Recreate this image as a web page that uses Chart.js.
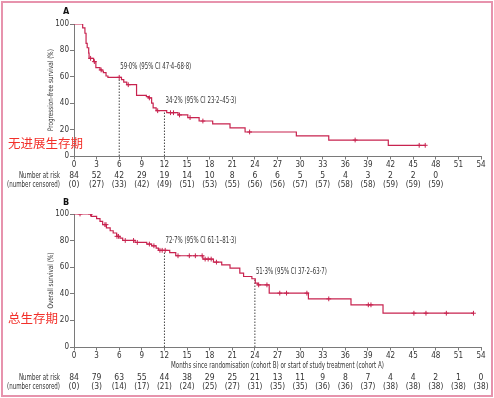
<!DOCTYPE html>
<html>
<head>
<meta charset="utf-8">
<script src="https://cdn.jsdelivr.net/npm/chart.js@4.4.0/dist/chart.umd.min.js"></script>
<style>
body { margin: 0; background: #fff; }
#wrap { position: relative; width: 494px; height: 398px; overflow: hidden; background: #fff; }
#frame { position: absolute; left: 1px; top: 1px; width: 492px; height: 396px; border: 2px solid #e793ad; box-sizing: border-box; pointer-events: none; }
canvas { position: absolute; left: 0; }
</style>
</head>
<body>
<div id="wrap">
  <canvas id="canv-a" width="494" height="196" style="top:0px"></canvas>
  <canvas id="canv-b" width="494" height="202" style="top:196px"></canvas>
  <div id="frame"></div>
</div>
<script>
// months at the x ticks
var tickMonths = [0, 3, 6, 9, 12, 15, 18, 21, 24, 27, 30, 33, 36, 39, 42, 45, 48, 51, 54];

// A: progression-free survival (step points: time, survival %)
var pfsTime = [0, 1.15, 1.45, 1.6, 1.75, 1.95, 2.0, 2.6, 2.9, 3.45, 3.7, 3.9, 4.25, 4.5, 6.3, 6.6, 7.0, 8.3, 9.6, 9.9, 10.3, 10.5, 10.9, 12.3, 13.8, 15.1, 16.6, 18.4, 20.7, 22.7, 29.5, 33.8, 41.7, 46.6];
var pfsSurv = [100, 97, 93, 85.3, 82, 78, 74, 71.5, 67, 65.2, 64.4, 63.1, 60.6, 59.6, 57.8, 56, 54, 46, 45, 44, 40, 36.4, 34.3, 32.8, 31.1, 29.1, 26.5, 24.3, 21.3, 18.2, 15.2, 12.1, 8.1, 8.1];
var pfsCensTime = [2.2, 2.7, 3.6, 6.0, 7.2, 10.0, 11.1, 12.8, 13.2, 14.0, 15.4, 17.1, 23.3, 37.3, 45.8, 46.6];
var pfsCensSurv = [74, 71.5, 65.2, 59.6, 54, 44, 34.3, 32.8, 32.8, 31.1, 29.1, 26.5, 18.2, 12.1, 8.1, 8.1];
var pfsMarkTime = [6, 12];
var pfsMarkSurv = [59.0, 34.2];
var pfsMarkText = ['59·0% (95% CI 47·4–68·8)', '34·2% (95% CI 23·2–45·3)'];
var pfsAtRisk = [84, 52, 42, 29, 19, 14, 10, 8, 6, 6, 5, 5, 4, 3, 2, 2, 0];
var pfsCensored = [0, 27, 33, 42, 49, 51, 53, 55, 56, 56, 57, 57, 58, 58, 59, 59, 59];

// B: overall survival
var osTime = [0, 2.3, 3.0, 3.45, 3.8, 4.3, 4.8, 5.2, 5.66, 6.1, 6.46, 8.1, 9.65, 10.3, 10.9, 11.2, 12.7, 13.5, 17.1, 18.5, 19.6, 20.7, 22.0, 22.5, 23.6, 24.05, 24.4, 25.9, 31.1, 36.75, 41.0, 53.0];
var osSurv = [100, 98.2, 96.5, 94.5, 92, 89.5, 87.4, 85.7, 83.2, 81.9, 80.1, 78.6, 77.4, 76.1, 74.4, 72.7, 70.9, 68.6, 66.1, 63.8, 61.8, 59.3, 55.5, 53, 51.3, 48, 46.7, 40.5, 36.2, 31.7, 25.4, 25.4];
var osCensTime = [0.8, 2.2, 4.1, 4.25, 5.7, 5.9, 6.8, 7.9, 8.4, 10.0, 10.6, 11.4, 11.7, 12.1, 13.8, 15.3, 16.1, 17.0, 17.4, 17.8, 18.2, 18.9, 24.5, 25.6, 27.3, 28.2, 30.9, 33.8, 39.05, 39.4, 45.1, 46.7, 49.4, 53.0];
var osCensSurv = [100, 100, 92, 92, 83.2, 83.2, 80.1, 80.1, 78.6, 77.4, 76.1, 72.7, 72.7, 72.7, 68.6, 68.6, 68.6, 68.6, 66.1, 66.1, 66.1, 63.8, 46.7, 46.7, 40.5, 40.5, 40.5, 36.2, 31.7, 31.7, 25.4, 25.4, 25.4, 25.4];
var osMarkTime = [12, 24];
var osMarkSurv = [72.7, 51.3];
var osMarkText = ['72·7% (95% CI 61·1–81·3)', '51·3% (95% CI 37·2–63·7)'];
var osAtRisk = [84, 79, 63, 55, 44, 38, 29, 25, 21, 13, 11, 9, 8, 7, 4, 4, 2, 1, 0];
var osCensored = [0, 3, 14, 17, 21, 24, 25, 27, 31, 35, 35, 36, 36, 37, 38, 38, 38, 38, 38];

var FONT = '"Liberation Sans Narrow", "DejaVu Sans Condensed", "Liberation Sans", sans-serif';
var CURVE = '#c8234f';
var AXIS = '#7a7a7a';

Chart.defaults.font.family = FONT;
Chart.defaults.font.size = 8;
Chart.defaults.color = '#333';

function toPoints(xs, ys) {
    var pts = [];
    for (var i = 0; i < xs.length; i++) {
        pts.push({ x: xs[i], y: ys[i] });
    }
    return pts;
}

function buildKm(id, cfg) {
    var ctx = document.getElementById(id);

    var datasets = [{
        data: toPoints(cfg.time, cfg.surv),
        stepped: 'before',
        borderColor: CURVE,
        borderWidth: 1.2,
        pointRadius: 0,
        fill: false
    }, {
        data: toPoints(cfg.censTime, cfg.censSurv),
        showLine: false,
        pointStyle: 'cross',
        pointRadius: 2.4,
        pointBorderWidth: 1,
        borderColor: CURVE,
        backgroundColor: CURVE
    }];

    for (var i = 0; i < cfg.markTime.length; i++) {
        datasets.push({
            data: [{ x: cfg.markTime[i], y: 0 }, { x: cfg.markTime[i], y: cfg.markSurv[i] }],
            borderColor: '#444',
            borderWidth: 1,
            borderDash: [1.5, 1.5],
            pointRadius: 0,
            fill: false
        });
    }

    var textPlugin = {
        id: 'kmText',
        afterDatasetsDraw: function(chart) {
            var c = chart.ctx;
            var xs = chart.scales.x;
            var ys = chart.scales.y;
            c.save();
            c.fillStyle = '#333';
            c.textBaseline = 'middle';

            // estimate labels
            c.font = '8.5px ' + FONT;
            c.textAlign = 'left';
            for (var i = 0; i < cfg.markTime.length; i++) {
                c.fillText(cfg.markText[i], xs.getPixelForValue(cfg.markTime[i]) + 1,
                    ys.getPixelForValue(cfg.markSurv[i]) - cfg.markLift[i], 71);
            }

            // panel letter
            c.font = 'bold 9px ' + FONT;
            c.fillStyle = '#111';
            c.fillText(cfg.letter, 63, cfg.letterY);

            // y axis title
            c.save();
            c.font = '7.5px ' + FONT;
            c.fillStyle = '#333';
            c.textAlign = 'center';
            c.translate(51, (ys.top + ys.bottom) / 2);
            c.rotate(-Math.PI / 2);
            c.fillText(cfg.yTitle, 0, 0, cfg.yTitleWidth);
            c.restore();

            // x axis title
            if (cfg.xTitle) {
                c.font = '8px ' + FONT;
                c.textAlign = 'center';
                c.fillStyle = '#333';
                c.fillText(cfg.xTitle, (xs.left + xs.right) / 2, cfg.xTitleY, 213);
            }

            // numbers at risk
            c.font = '8.5px ' + FONT;
            c.fillStyle = '#333';
            c.textAlign = 'right';
            c.fillText('Number at risk', 60, cfg.riskY, 41);
            c.fillText('(number censored)', 60, cfg.censY, 53);
            c.textAlign = 'center';
            for (var j = 0; j < cfg.atRisk.length; j++) {
                var px = xs.getPixelForValue(tickMonths[j]);
                c.fillText(String(cfg.atRisk[j]), px, cfg.riskY);
                c.fillText('(' + cfg.censored[j] + ')', px, cfg.censY, 15);
            }

            // chinese label
            c.font = '12.5px "Noto Sans CJK SC", sans-serif';
            c.fillStyle = '#f2302a';
            c.textAlign = 'left';
            c.fillText(cfg.cnLabel, 8, cfg.cnY);
            c.restore();
        }
    };

    return new Chart(ctx, {
        type: 'line',
        data: { datasets: datasets },
        options: {
            responsive: false,
            animation: false,
            layout: { padding: { top: cfg.padTop, right: 13, left: 0, bottom: 0 } },
            plugins: { legend: { display: false }, tooltip: { enabled: false } },
            scales: {
                x: {
                    type: 'linear',
                    min: 0,
                    max: 54,
                    ticks: { stepSize: 3, autoSkip: false, maxRotation: 0, padding: 1, font: { size: 8 }, color: '#333' },
                    grid: { drawOnChartArea: false, tickLength: 3.5, color: AXIS },
                    border: { color: AXIS },
                    afterFit: function(s) { s.height = cfg.xHeight; }
                },
                y: {
                    min: 0,
                    max: 100,
                    ticks: { stepSize: 20, padding: 1, font: { size: 8 }, color: '#333' },
                    grid: { drawOnChartArea: false, tickLength: 4, color: AXIS },
                    border: { color: AXIS },
                    afterFit: function(s) { s.width = 74; }
                }
            }
        },
        plugins: [textPlugin]
    });
}

buildKm('canv-a', {
    time: pfsTime, surv: pfsSurv,
    censTime: pfsCensTime, censSurv: pfsCensSurv,
    markTime: pfsMarkTime, markSurv: pfsMarkSurv, markText: pfsMarkText, markLift: [11, 10],
    atRisk: pfsAtRisk, censored: pfsCensored,
    letter: 'A', letterY: 12,
    yTitle: 'Progression-free survival (%)', yTitleWidth: 82,
    xTitle: null,
    riskY: 176, censY: 185,
    cnLabel: '无进展生存期', cnY: 143,
    padTop: 24, xHeight: 40
});

buildKm('canv-b', {
    time: osTime, surv: osSurv,
    censTime: osCensTime, censSurv: osCensSurv,
    markTime: osMarkTime, markSurv: osMarkSurv, markText: osMarkText, markLift: [10, 7],
    atRisk: osAtRisk, censored: osCensored,
    letter: 'B', letterY: 7,
    yTitle: 'Overall survival (%)', yTitleWidth: 56,
    xTitle: 'Months since randomisation (cohort B) or start of study treatment (cohort A)',
    xTitleY: 170,
    riskY: 182, censY: 191,
    cnLabel: '总生存期', cnY: 122,
    padTop: 18, xHeight: 51
});
</script>
</body>
</html>
